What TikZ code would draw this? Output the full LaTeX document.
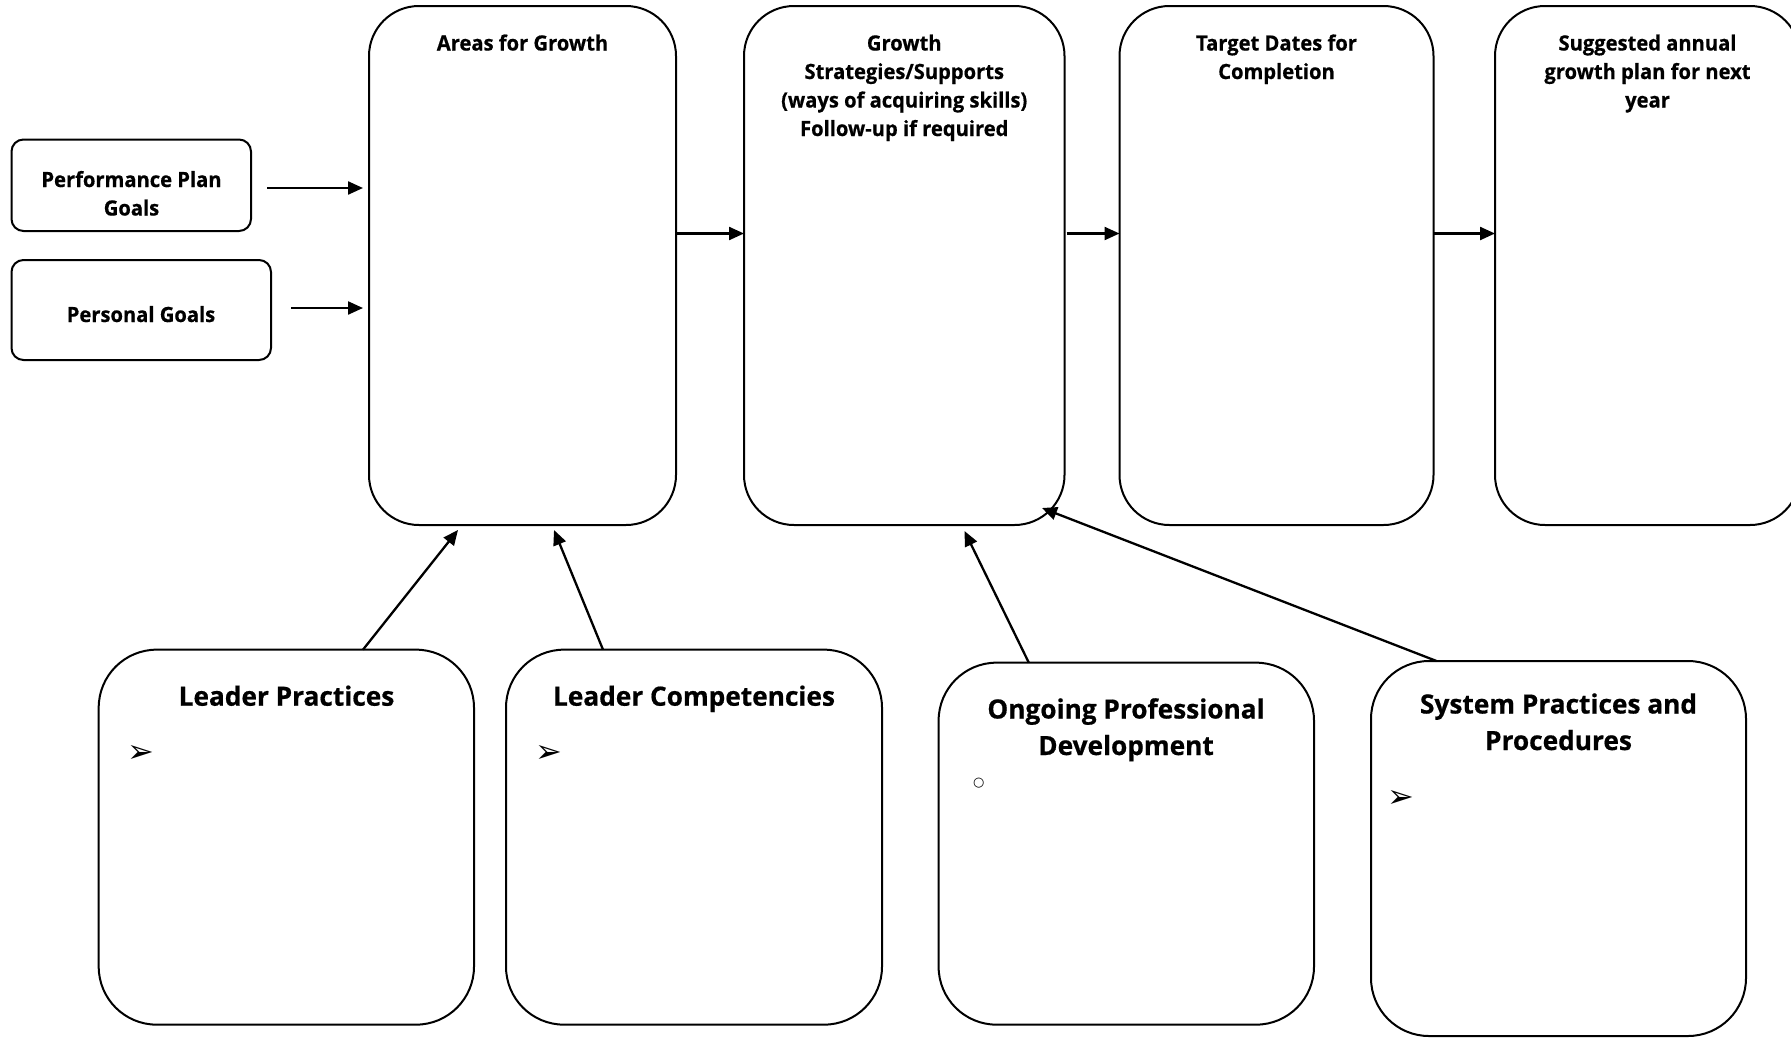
\documentclass[tikz,border=0pt]{standalone}
\usepackage{fontspec}
\setmainfont{Open Sans}[FakeStretch=0.96,BoldFeatures={FakeBold=0.6}]
\newfontfamily\bigf{Open Sans}[FakeStretch=0.99,BoldFeatures={FakeBold=0.6}]
\newfontfamily\dvs{DejaVu Sans}
\usetikzlibrary{arrows.meta}
\begin{document}
\begin{tikzpicture}[x=1pt,y=-1pt,
  box/.style={draw=black,line width=2pt,rounded corners=#1,inner sep=0pt,outer sep=0pt},
  box/.default=50pt,
  hdr/.style={font=\bfseries\fontsize{21}{28.5}\selectfont,align=center,inner sep=0pt,anchor=base},
  big/.style={font=\bigf\bfseries\fontsize{26.5}{36.5}\selectfont,align=center,inner sep=0pt,anchor=base},
  bul/.style={font=\dvs\fontsize{32}{32}\selectfont,inner sep=0pt},
  circ/.style={font=\dvs\fontsize{13}{13}\selectfont,inner sep=0pt},
  arr/.style={line width=2.3pt,-{Triangle[length=15pt,width=13pt]}}]
\useasboundingbox (0,0) rectangle (1791,1037);
% top row boxes
\node[box, minimum width=307, minimum height=519] (areas) at (522.5,265.5) {};
\node[box, minimum width=320.5, minimum height=519] (growth) at (904.25,265.5) {};
\node[box, minimum width=314, minimum height=519] (target) at (1276.5,265.5) {};
\node[box, minimum width=305, minimum height=519] (sugg) at (1647.5,265.5) {};
% left boxes
\node[box=12pt, minimum width=239.5, minimum height=91.5] (perf) at (131.25,185.25) {};
\node[box=12pt, minimum width=259.5, minimum height=100] (pers) at (141.25,310) {};
% bottom boxes
\node[box=58pt, minimum width=375.3, minimum height=375] (lp) at (286.35,837.15) {};
\node[box=58pt, minimum width=376, minimum height=375] (lc) at (694,837.15) {};
\node[box=58pt, minimum width=375.4, minimum height=362] (opd) at (1126.3,843.65) {};
\node[box=58pt, minimum width=375, minimum height=375] (sys) at (1558.5,848.5) {};
% texts (base anchor = baseline of the last line)
\node[hdr] (areasT) at (522.5,50.5) {Areas for Growth};
\node[hdr] (growthT) at (904.25,136) {Growth\\Strategies/Supports\\(ways of acquiring skills)\\Follow-up if required};
\node[hdr] (targetT) at (1276.5,79) {Target Dates for\\Completion};
\node[hdr] (suggT) at (1647.5,107.5) {Suggested annual\\growth plan for next\\year};
\node[hdr] (perfT) at (131.5,215.5) {Performance Plan\\Goals};
\node[hdr] (persT) at (141,322) {Personal Goals};
\node[big] (lpT) at (286.5,705.7) {Leader Practices};
\node[big] (lcT) at (694,705.7) {Leader Competencies};
\node[big] (opdT) at (1126,755) {Ongoing Professional\\Development};
\node[big] (sysT) at (1558.5,750) {System Practices and\\Procedures};
% bullets
\node[bul] (lpB) at (140.5,754) {➢};
\node[bul] (lcB) at (549,754) {➢};
\node[circ] (opdB) at (978.8,783) {○};
\node[bul] (sysB) at (1401,799) {➢};
% connectors
\draw[arr] ([shift={(16,2.75)}]perf.east) -- ([shift={(-6,-77.5)}]areas.west);
\draw[arr] ([shift={(20,-2)}]pers.east) -- ([shift={(-6,42.5)}]areas.west);
\draw[arr] ([shift={(0,-32)}]areas.east) -- ([shift={(0,-32)}]growth.west);
\draw[arr] ([shift={(2,-32)}]growth.east) -- ([shift={(0,-32)}]target.west);
\draw[arr] ([shift={(0,-32)}]target.east) -- ([shift={(0,-32)}]sugg.west);
\draw[arr] ([shift={(76.65,0)}]lp.north) -- ([shift={(-64.5,5)}]areas.south);
\draw[arr] ([shift={(-91,0)}]lc.north) -- ([shift={(31.5,5)}]areas.south);
\draw[arr] ([shift={(-97.5,0)}]opd.north) -- ([shift={(60.25,6)}]growth.south);
\draw[arr] ([shift={(-122,0)}]sys.north) -- ([shift={(137.75,-17)}]growth.south);
\end{tikzpicture}
\end{document}
